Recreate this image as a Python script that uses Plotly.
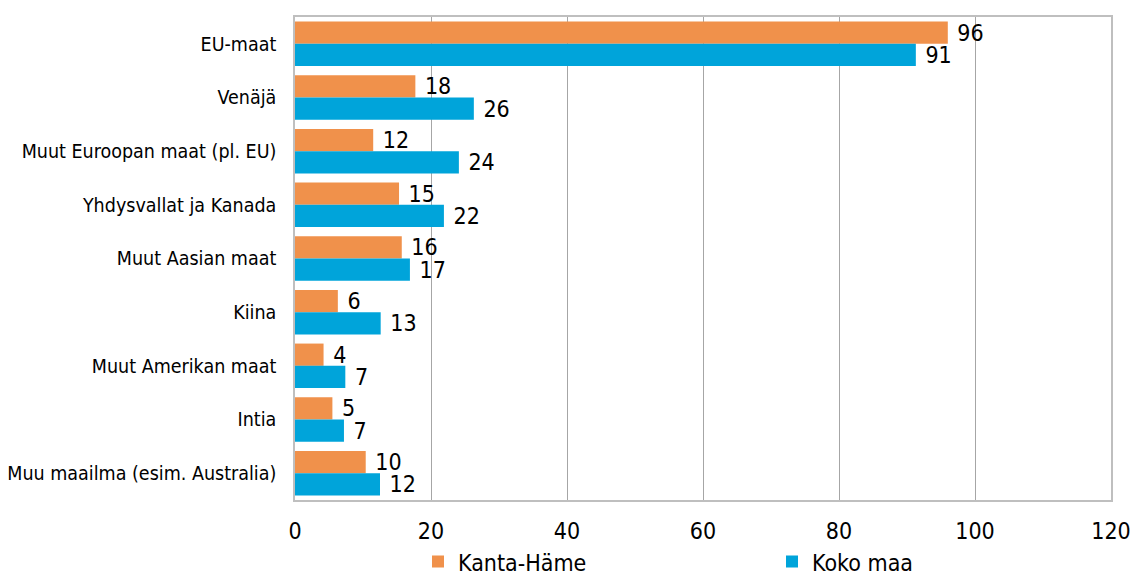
import plotly.graph_objects as go

categories = ["EU-maat", "Venäjä", "Muut Euroopan maat (pl. EU)", "Yhdysvallat ja Kanada",
              "Muut Aasian maat", "Kiina", "Muut Amerikan maat", "Intia",
              "Muu maailma (esim. Australia)"]
kanta_hame = [96.0, 17.7, 11.5, 15.3, 15.7, 6.3, 4.2, 5.5, 10.4]
koko_maa = [91.3, 26.3, 24.1, 21.9, 16.9, 12.6, 7.4, 7.2, 12.5]
kanta_hame_labels = ["96", "18", "12", "15", "16", "6", "4", "5", "10"]
koko_maa_labels = ["91", "26", "24", "22", "17", "13", "7", "7", "12"]
x_ticks = [0, 20, 40, 60, 80, 100, 120]

FONT = "DejaVu Sans Condensed, Tahoma, sans-serif"
ORANGE = "#F0914B"
BLUE = "#00A4DA"

fig = go.Figure()
series = [("Kanta-Häme", kanta_hame, kanta_hame_labels, ORANGE, "legend"),
          ("Koko maa", koko_maa, koko_maa_labels, BLUE, "legend2")]
for name, vals, labels, col, leg in series:
    fig.add_trace(go.Bar(
        y=categories, x=vals, name=name, orientation="h",
        marker=dict(color=col, line=dict(width=0)),
        text=[" " + t for t in labels], textposition="outside",
        textfont=dict(family=FONT, size=23, color="black"),
        constraintext="none", cliponaxis=False, legend=leg,
    ))

legend_common = dict(orientation="h", xref="container", yref="container",
                     xanchor="left", yanchor="middle", y=0.03,
                     font=dict(family=FONT, size=23, color="black"),
                     bgcolor="rgba(0,0,0,0)", itemwidth=30)

fig.update_layout(
    width=1144, height=579,
    margin=dict(l=295, r=33, t=17, b=79, autoexpand=False),
    plot_bgcolor="white", paper_bgcolor="white",
    barmode="group", bargap=0.17, bargroupgap=0,
    font=dict(family=FONT, color="black"),
    xaxis=dict(range=[0, 120], tickvals=x_ticks, showgrid=True, gridcolor="#a6a6a6", gridwidth=1,
               showline=True, linecolor="#bfbfbf", linewidth=1.5, mirror=True, zeroline=False,
               ticks="", tickfont=dict(family=FONT, size=23, color="black"), ticklabelstandoff=10,
               automargin=False),
    yaxis=dict(autorange="reversed", showline=True, linecolor="#bfbfbf", linewidth=1.5, mirror=True,
               ticks="", tickfont=dict(family=FONT, size=19.5, color="black"), ticklabelstandoff=13,
               automargin=False),
    legend=dict(x=418 / 1144, **legend_common),
    legend2=dict(x=772 / 1144, **legend_common),
    showlegend=True,
)
fig.write_html("out.html", config={"displayModeBar": False},
               post_script="document.body.style.margin='0';document.body.style.overflow='hidden';")
